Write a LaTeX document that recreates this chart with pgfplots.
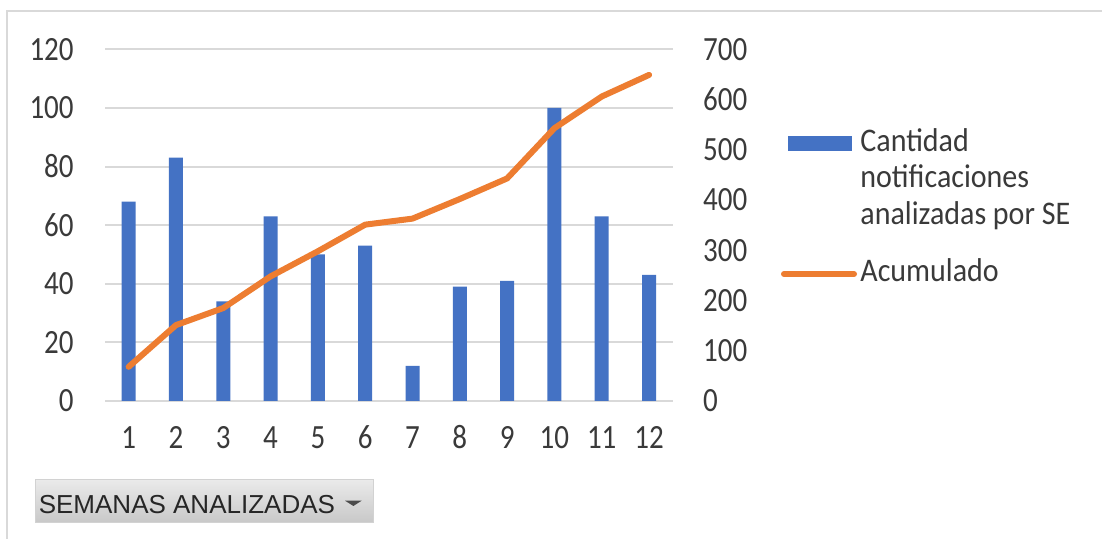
\documentclass[border=0pt]{standalone}
\usepackage{fontspec}
\setmainfont{Carlito}
\newfontfamily\btnfont{Liberation Sans}
\usepackage{graphicx}
\usepackage{pgfplots}
\pgfplotsset{compat=1.18}
\definecolor{xblue}{HTML}{4472C4}
\definecolor{xorange}{HTML}{ED7D31}
\definecolor{gridc}{HTML}{D9D9D9}
\definecolor{txt}{HTML}{3A3A3A}
\definecolor{framec}{HTML}{D9D9D9}
\definecolor{btntop}{HTML}{EAEAEA}
\definecolor{btnbot}{HTML}{C8C8C8}
\definecolor{btntext}{HTML}{262626}

\pgfplotsset{
  mybase/.style={
    at={(52.5pt,69pt)}, anchor=south west, scale only axis,
    width=283.85pt, height=175.85pt,
    xmin=0.5, xmax=12.5,
    axis line style={draw=none}, major tick style={draw=none},
    tick label style={font=\fontsize{14.5}{17}\selectfont, text=txt},
    /pgf/number format/assume math mode=true,
    yticklabel={\scalebox{1}[1.17]{\pgfmathprintnumber{\tick}}},
    xticklabel={\scalebox{1}[1.17]{\pgfmathprintnumber{\tick}}},
    clip=false,
  }
}

\begin{document}
\begin{tikzpicture}
\useasboundingbox (0,0) rectangle (551pt,269.5pt);
\fill[white] (0,0) rectangle (551pt,269.5pt);
\draw[framec, line width=1pt] (3.25pt,0) -- (3.25pt,263.75pt) -- (551pt,263.75pt);

\begin{axis}[mybase,
  ymin=0, ymax=120,
  xtick={1,...,12}, ytick={0,20,...,120},
  ymajorgrids, grid style={gridc, line width=1pt},
  yticklabel style={anchor=east, inner sep=0pt, xshift=-15.5pt},
  xticklabel style={anchor=base, inner sep=0pt, yshift=-24pt},
]
\addplot[ybar, bar width=7pt, bar shift=0pt, fill=xblue, draw=none] coordinates {
(1,68) (2,83) (3,34) (4,63) (5,50) (6,53) (7,12) (8,39) (9,41) (10,100) (11,63) (12,43)};
\end{axis}

\begin{axis}[mybase,
  ymin=0, ymax=700,
  xtick=\empty, ytick={0,100,...,700},
  yticklabel pos=right,
  yticklabel style={anchor=west, inner sep=0pt, xshift=15pt},
]
\addplot[xorange, line width=3pt, line join=round, line cap=round] coordinates {
(1,68) (2,151) (3,185) (4,248) (5,298) (6,351) (7,363) (8,402) (9,443) (10,543) (11,606) (12,649)};
\end{axis}

% legend
\fill[xblue] (394pt,194pt) rectangle (426pt,201.5pt);
\draw[xorange, line width=3pt, line cap=round] (392pt,132.5pt) -- (427pt,132.5pt);
\begin{scope}[every node/.style={anchor=base west, inner sep=0pt, text=txt, font=\fontsize{15}{18}\selectfont}]
\node at (430pt,193.65pt) {\scalebox{1}[1.1]{Cantidad}};
\node at (430pt,175.85pt) {\scalebox{1}[1.1]{notificaciones}};
\node at (430pt,157pt) {\scalebox{1}[1.1]{analizadas por SE}};
\node at (430pt,128.65pt) {\scalebox{1}[1.1]{Acumulado}};
\end{scope}

% field button
\shade[top color=btntop, bottom color=btnbot] (17.5pt,8.15pt) rectangle (186.7pt,29.5pt);
\draw[gray!35, line width=0.5pt] (17.5pt,8.15pt) rectangle (186.7pt,29.5pt);
\node[anchor=base west, inner sep=0pt, text=btntext, font=\btnfont\fontsize{13}{15}\selectfont] at (19.2pt,12.85pt) {SEMANAS ANALIZADAS};
\fill[black!70] (172.5pt,19.15pt) -- (180.85pt,19.15pt) -- (176.7pt,16.5pt) -- cycle;
\end{tikzpicture}
\end{document}
